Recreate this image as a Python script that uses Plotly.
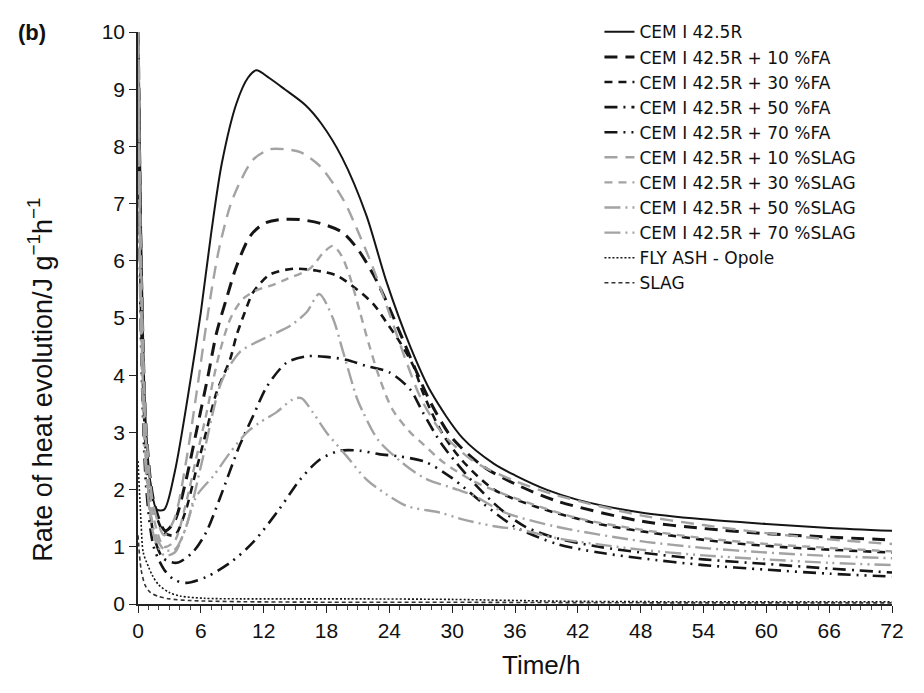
import plotly.graph_objects as go

# ---------------- data ----------------
cem_x = [0, 0.3, 0.7, 1.2, 1.8, 2.5, 3.5, 5, 6, 7, 8, 9.4, 10.5, 11.3, 12.5, 14, 16, 17.5, 19.5, 21.8, 23.7, 26, 28, 31, 34, 36, 39, 42, 48, 54, 60, 66, 72]
cem_y = [10.5, 6.5, 3.3, 2.1, 1.65, 1.65, 2.3, 3.9, 5.1, 6.5, 7.7, 8.75, 9.2, 9.33, 9.2, 9.0, 8.72, 8.4, 7.8, 6.8, 5.65, 4.5, 3.7, 2.9, 2.45, 2.25, 2.0, 1.82, 1.6, 1.48, 1.4, 1.33, 1.28]

fa10_x = [0, 0.3, 0.8, 1.5, 2.6, 3.5, 4.5, 5.5, 6.7, 7.5, 8.5, 9.4, 10.7, 12, 13.5, 15.5, 17.5, 19.5, 21, 22.5, 23.7, 25, 26.5, 28, 30, 33, 36, 40, 48, 54, 60, 66, 72]
fa10_y = [10.5, 6, 3.0, 1.8, 1.28, 1.45, 2.1, 2.95, 4.0, 4.74, 5.37, 5.9, 6.43, 6.65, 6.72, 6.72, 6.65, 6.5, 6.2, 5.75, 5.3, 4.75, 4.1, 3.5, 2.9, 2.4, 2.1, 1.8, 1.45, 1.32, 1.23, 1.17, 1.12]

fa30_x = [0, 0.3, 0.8, 1.5, 2.5, 3.5, 4.5, 5.5, 6.5, 7.5, 8.8, 9.4, 10.2, 11, 12.6, 14.8, 17, 19, 20.9, 22.5, 23.7, 25, 26.3, 27.2, 29, 31, 34, 38, 44, 50, 56, 62, 72]
fa30_y = [10.5, 5.5, 2.8, 1.7, 1.25, 1.2, 1.6, 2.3, 3.0, 3.7, 4.28, 4.69, 5.1, 5.45, 5.76, 5.86, 5.83, 5.74, 5.5, 5.24, 4.93, 4.58, 4.16, 3.7, 3.0, 2.5, 2.0, 1.7, 1.4, 1.22, 1.08, 0.99, 0.9]

fa50_x = [0, 0.3, 0.8, 1.5, 2.4, 3.7, 5.2, 6.5, 7.8, 9.7, 11, 12.3, 14.2, 16.1, 18, 19.9, 21.8, 24, 26, 27.2, 29.1, 32, 34.6, 37, 40, 44, 48, 54, 60, 66, 72]
fa50_y = [10.5, 5, 2.5, 1.2, 0.8, 0.72, 0.9, 1.25, 1.84, 2.77, 3.29, 3.8, 4.22, 4.33, 4.32, 4.27, 4.16, 4.05, 3.75, 3.35, 2.77, 2.13, 1.66, 1.35, 1.15, 1.0, 0.9, 0.78, 0.7, 0.62, 0.55]

fa70_x = [0, 0.3, 0.8, 1.5, 2.5, 3.5, 4.6, 6.5, 9, 11, 13.5, 15.5, 17.4, 19.3, 21.2, 23, 25, 27.5, 30, 33, 36, 40, 44, 48, 54, 60, 66, 72]
fa70_y = [10.5, 4.5, 2.0, 1.0, 0.6, 0.42, 0.37, 0.47, 0.75, 1.08, 1.66, 2.18, 2.53, 2.68, 2.68, 2.62, 2.58, 2.48, 2.2, 1.75, 1.35, 1.05, 0.9, 0.8, 0.68, 0.6, 0.53, 0.48]

sl10_x = [0, 0.3, 0.8, 1.5, 2.5, 3.5, 4.6, 5.6, 6.5, 7.2, 7.8, 8.8, 9.7, 11, 12.6, 14, 15.5, 17.4, 19.6, 21.2, 22.5, 24.1, 25.5, 27, 29, 32, 36, 40, 48, 54, 60, 66, 72]
sl10_y = [10.5, 6, 3.0, 1.7, 1.2, 1.5, 2.5, 3.7, 4.86, 5.68, 6.26, 6.96, 7.36, 7.77, 7.95, 7.95, 7.9, 7.65, 7.07, 6.43, 5.85, 5.03, 4.3, 3.6, 3.0, 2.5, 2.15, 1.9, 1.55, 1.38, 1.24, 1.13, 1.05]

sl30_x = [0, 0.3, 0.8, 1.5, 2.5, 3.5, 4.5, 5.5, 6.5, 7.2, 7.8, 8.8, 10, 11.5, 12.6, 14.2, 16.4, 17.7, 18.6, 19.4, 20.2, 21.2, 22.1, 23.1, 24.3, 26, 27.2, 29, 32, 36, 42, 48, 54, 60, 66, 72]
sl30_y = [10.5, 5.5, 2.7, 1.5, 1.0, 1.1, 1.7, 2.5, 3.3, 3.93, 4.4, 4.98, 5.33, 5.5, 5.56, 5.68, 5.86, 6.14, 6.26, 6.1, 5.74, 5.1, 4.51, 3.93, 3.4, 3.0, 2.8, 2.5, 2.15, 1.85, 1.5, 1.3, 1.15, 1.05, 0.98, 0.92]

sl50_x = [0, 0.3, 0.8, 1.5, 2.5, 3.5, 4.5, 6, 8, 9.7, 11, 12.6, 14.5, 16.1, 17.3, 18.6, 19.6, 20.9, 21.5, 23, 26, 27.6, 30.5, 32, 35, 40, 48, 54, 60, 66, 72]
sl50_y = [10.5, 5, 2.4, 1.3, 0.95, 0.95, 1.3, 2.4, 3.9, 4.4, 4.55, 4.69, 4.86, 5.1, 5.42, 5.0, 4.4, 3.6, 3.35, 2.85, 2.36, 2.18, 2.0, 1.9, 1.6, 1.35, 1.1, 0.98, 0.9, 0.84, 0.8]

sl70_x = [0, 0.3, 0.8, 1.5, 2.5, 3.5, 4.5, 5.6, 7.2, 8.8, 10.4, 11.6, 13.2, 14.8, 15.6, 16.7, 18, 19.9, 21.8, 23.7, 25.7, 28.8, 31, 34, 36.5, 40, 48, 54, 60, 66, 72]
sl70_y = [10.5, 4.5, 2.2, 1.2, 0.85, 0.9, 1.3, 1.89, 2.24, 2.65, 3.0, 3.17, 3.35, 3.58, 3.6, 3.35, 3.0, 2.59, 2.18, 1.92, 1.71, 1.6, 1.48, 1.36, 1.3, 1.15, 0.95, 0.85, 0.78, 0.72, 0.68]

flyash_x = [0, 0.3, 0.5, 1, 1.4, 2, 3, 4, 6.3, 10, 20, 30, 40, 50, 60, 72]
flyash_y = [2.5, 1.4, 0.9, 0.65, 0.49, 0.33, 0.2, 0.14, 0.1, 0.09, 0.09, 0.08, 0.05, 0.04, 0.04, 0.04]

slag_x = [0, 0.3, 0.7, 1.2, 2, 3, 5, 10, 20, 30, 50, 72]
slag_y = [1.2, 0.6, 0.32, 0.2, 0.13, 0.09, 0.06, 0.04, 0.03, 0.03, 0.02, 0.02]

names = ["CEM I 42.5R", "CEM I 42.5R + 10 %FA", "CEM I 42.5R + 30 %FA",
         "CEM I 42.5R + 50 %FA", "CEM I 42.5R + 70 %FA", "CEM I 42.5R + 10 %SLAG",
         "CEM I 42.5R + 30 %SLAG", "CEM I 42.5R + 50 %SLAG", "CEM I 42.5R + 70 %SLAG",
         "FLY ASH - Opole", "SLAG"]

x_ticks = [0, 6, 12, 18, 24, 30, 36, 42, 48, 54, 60, 66, 72]
y_ticks = [0, 1, 2, 3, 4, 5, 6, 7, 8, 9, 10]

# ---------------- styles ----------------
BLACK = "#151515"
GRAY = "#a3a3a3"
series = [
    (cem_x, cem_y, BLACK, 2.0, "solid"),
    (fa10_x, fa10_y, BLACK, 3.0, "13px,8px"),
    (fa30_x, fa30_y, BLACK, 2.6, "8px,6px"),
    (fa50_x, fa50_y, BLACK, 2.6, "13px,6px,2px,6px"),
    (fa70_x, fa70_y, BLACK, 2.6, "13px,6px,2px,6px,2px,6px"),
    (sl10_x, sl10_y, GRAY, 2.4, "13px,8px"),
    (sl30_x, sl30_y, GRAY, 2.4, "8px,6px"),
    (sl50_x, sl50_y, GRAY, 2.4, "16px,5px,2px,5px"),
    (sl70_x, sl70_y, GRAY, 2.4, "16px,5px,2px,5px,2px,5px"),
    (flyash_x, flyash_y, BLACK, 1.6, "2px,2px"),
    (slag_x, slag_y, "#333333", 1.6, "4px,3px"),
]

fig = go.Figure()
for (xs, ys, col, w, dash), nm in zip(series, names):
    fig.add_trace(go.Scatter(
        x=xs, y=ys, name=nm, mode="lines",
        line=dict(color=col, width=w, dash=dash, shape="spline", smoothing=0.8),
    ))

fig.update_layout(
    width=924, height=693,
    margin=dict(l=130, r=40, t=24, b=97, autoexpand=False),
    paper_bgcolor="white", plot_bgcolor="white",
    font=dict(family="Liberation Sans, Arial, sans-serif", color="#111111", size=19),
    showlegend=True,
    legend=dict(x=0.612, y=1.031, xanchor="left", yanchor="top",
                bgcolor="rgba(0,0,0,0)", tracegroupgap=0,
                font=dict(size=17, family="DejaVu Sans, Liberation Sans, sans-serif")),
    xaxis=dict(
        range=[0, 72], tickmode="array", tickvals=x_ticks,
        ticktext=[str(v) for v in x_ticks],
        showgrid=False, zeroline=False, showline=True, linecolor="#222222", linewidth=1.5,
        ticks="outside", ticklen=7, tickwidth=1.2, tickcolor="#222222",
        minor=dict(dtick=1, ticks="outside", ticklen=4, tickcolor="#444444", tickwidth=1),
        tickfont=dict(size=21),
    ),
    yaxis=dict(
        range=[0, 10], tickmode="array", tickvals=y_ticks,
        ticktext=[str(v) for v in y_ticks],
        showgrid=False, zeroline=False, showline=True, linecolor="#222222", linewidth=1.5,
        ticks="outside", ticklen=7, tickwidth=1.2, tickcolor="#222222",
        tickfont=dict(size=21),
    ),
    annotations=[
        dict(text="<b>(b)</b>", xref="paper", yref="paper", x=-0.162, y=1.0,
             xanchor="left", yanchor="middle", showarrow=False, font=dict(size=22)),
        dict(text="Rate of heat evolution/J g<sup>−1</sup>h<sup>−1</sup>", xref="paper", yref="paper",
             x=-0.13, y=0.392, xanchor="center", yanchor="middle", textangle=-90,
             showarrow=False, font=dict(size=27)),
        dict(text="Time/h", xref="paper", yref="paper", x=0.535, y=-0.107,
             xanchor="center", yanchor="middle", showarrow=False, font=dict(size=26)),
    ],
)

fig.write_html("out.html")
